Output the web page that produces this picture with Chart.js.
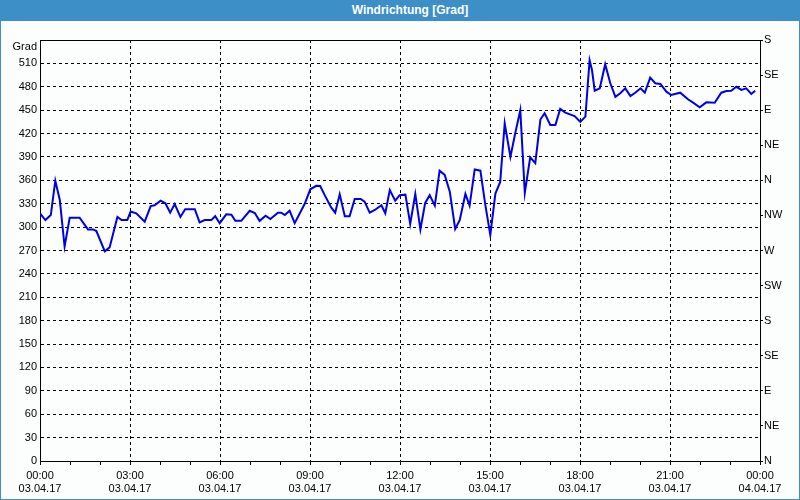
<!DOCTYPE html>
<html>
<head>
<meta charset="utf-8">
<script src="https://cdn.jsdelivr.net/npm/chart.js@4.4.1/dist/chart.umd.min.js"></script>
<style>
  html, body { margin: 0; padding: 0; background: #fcfefe; }
  #wrap { position: relative; width: 800px; height: 500px; background: #fcfefe; }
  #bar { position: absolute; left: 0; top: 0; width: 800px; height: 21px; background: #3c8fc7;
         color: #fff; font: bold 12px "Liberation Sans", Arial, sans-serif; line-height: 21px;
         text-align: center; box-sizing: border-box; padding-left: 20px; }
  #frame { position: absolute; left: 0; top: 0; width: 800px; height: 500px; box-sizing: border-box;
           border: 1px solid #3c8fc7; pointer-events: none; }
  canvas { position: absolute; left: 0; top: 0; }
</style>
</head>
<body>
<div id="wrap">
  <canvas id="c" width="800" height="500"></canvas>
  <div id="bar">Windrichtung [Grad]</div>
  <div id="frame"></div>
</div>
<script>
const hours = [0,0.18,0.36,0.51,0.66,0.82,0.99,1.32,1.6,1.77,1.88,2.16,2.32,2.58,2.72,2.91,3.02,3.21,3.49,3.69,3.82,4.02,4.18,4.34,4.49,4.68,4.84,5.16,5.32,5.49,5.71,5.84,5.99,6.21,6.38,6.51,6.71,6.99,7.16,7.32,7.52,7.68,7.93,8.04,8.16,8.32,8.49,8.82,9.01,9.21,9.34,9.49,9.71,9.84,9.99,10.16,10.32,10.49,10.69,10.82,10.99,11.16,11.38,11.51,11.66,11.84,11.99,
  12.18,12.34,12.51,12.68,12.84,12.99,13.16,13.32,13.49,13.66,13.84,13.99,14.18,14.32,14.49,14.68,14.84,15.01,15.18,15.34,15.49,15.68,15.84,16.01,16.16,16.34,16.51,16.68,16.82,17.01,17.18,17.34,17.51,17.82,18.01,18.18,18.32,18.4,18.49,18.66,18.84,19.01,19.18,19.34,19.51,19.68,19.84,20.02,20.16,20.34,20.51,20.68,20.88,21.04,21.34,21.6,21.77,21.99,22.21,22.49,22.71,22.88,23.04,23.21,23.38,23.54,23.71,23.84];
const windDir = [317.7,309,315.5,359.5,334.8,275,312,312,297,297,295,269,274,313,309,309,320,317.7,307,327,328,334,330.5,318.5,329.6,313,323,323,306,309,309,314,305,316.4,316,308,308,321,318,308,314.7,310.4,318.5,318.5,315.5,321,305,329.6,348.5,353,352.7,341,325,318.5,342,314,314,336,336,332.6,318.5,322,328,317.7,347.6,334,341,
  341.6,304,342.5,297,331,341,327.5,372.4,367,345.5,297.6,309,342.5,327.5,374,372.4,329.6,290,343,358,433,390,420,450,344,389.5,382,438,446,431,431,451.5,446.8,442.5,435,441.7,514,501.5,475,478,509,484.5,467,471.6,478,468,472.4,478,472.4,491.7,484.5,483.6,473.7,469.5,472.4,464,459.6,453.7,460,459.6,472.4,474.6,475,480,476,478,470.8,475];
const timeLabels = ['00:00','03:00','06:00','09:00','12:00','15:00','18:00','21:00','00:00'];
const dateLabels = ['03.04.17','03.04.17','03.04.17','03.04.17','03.04.17','03.04.17','03.04.17','03.04.17','04.04.17'];
const compassLabels = ['N','NE','E','SE','S','SW','W','NW','N','NE','E','SE','S'];
const yTopLabel = 'Grad';

const FONT = { family: '"Liberation Sans", Arial, sans-serif', size: 11 };
const dash = [3, 3];

new Chart(document.getElementById('c'), {
  type: 'line',
  data: {
    datasets: [{
      data: hours.map((h, i) => ({ x: h, y: windDir[i] })),
      borderColor: '#0000e6',
      borderWidth: 2,
      pointRadius: 0,
      tension: 0,
      fill: false
    }]
  },
  options: {
    responsive: false,
    animation: false,
    events: [],
    layout: { padding: 0 },
    plugins: { legend: { display: false }, tooltip: { enabled: false }, title: { display: false } },
    scales: {
      x: {
        type: 'linear', position: 'bottom', min: 0, max: 24,
        afterFit: s => { s.height = 39; },
        ticks: {
          stepSize: 1, autoSkip: false, maxRotation: 0, minRotation: 0, padding: 4,
          color: '#000', font: FONT,
          callback: v => (v % 3 === 0) ? [timeLabels[v / 3], dateLabels[v / 3]] : ''
        },
        grid: {
          color: c => (c.tick && c.tick.value % 3 === 0 && c.tick.value > 0 && c.tick.value < 24) ? '#000' : 'rgba(0,0,0,0)',
          lineWidth: 1, tickLength: 4, tickColor: '#000', tickBorderDash: []
        },
        border: { color: '#000', width: 1, dash: dash }
      },
      xTop: {
        type: 'linear', position: 'top', min: 0, max: 24,
        afterFit: s => { s.height = 40; },
        ticks: { display: false },
        grid: { drawOnChartArea: false, drawTicks: false },
        border: { color: '#000', width: 1 }
      },
      y: {
        type: 'linear', position: 'left', min: 0, max: 540,
        afterFit: s => { s.width = 40; },
        ticks: {
          stepSize: 30, autoSkip: false, padding: 3, color: '#000', font: FONT,
          callback: v => v === 540 ? ['', yTopLabel] : String(v)
        },
        grid: {
          drawTicks: false,
          color: c => (c.tick && c.tick.value > 0 && c.tick.value < 540) ? '#000' : 'rgba(0,0,0,0)',
          lineWidth: 1
        },
        border: { color: '#000', width: 1, dash: dash }
      },
      y2: {
        type: 'linear', position: 'right', min: 0, max: 540,
        afterFit: s => { s.width = 40; },
        ticks: {
          stepSize: 45, autoSkip: false, padding: 1, color: '#000', font: FONT,
          callback: v => compassLabels[Math.round(v / 45)]
        },
        grid: { drawOnChartArea: false, tickLength: 3, tickColor: '#000' },
        border: { color: '#000', width: 1 }
      }
    }
  }
});
</script>
</body>
</html>
